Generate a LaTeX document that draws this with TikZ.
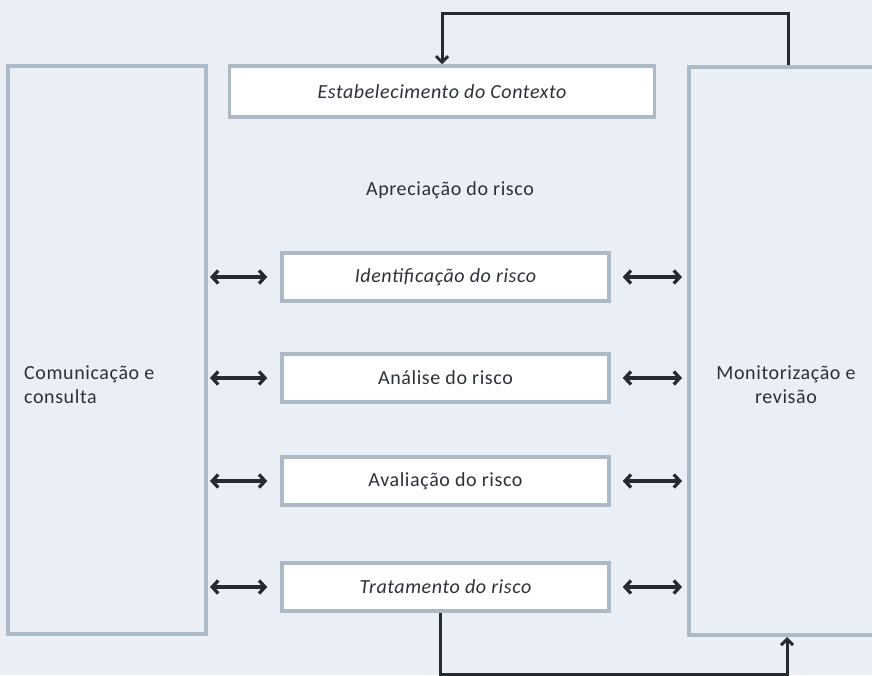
\documentclass[tikz,border=0pt]{standalone}
\usepackage{fontspec}
\setmainfont[LetterSpace=3]{Carlito}
\usetikzlibrary{positioning,arrows.meta,calc}

\definecolor{bgcol}{HTML}{E9EFF4}
\definecolor{edgecol}{HTML}{ADBAC5}
\definecolor{arrcol}{HTML}{262B32}
\definecolor{txtcol}{HTML}{2C3138}

\begin{document}
\begin{tikzpicture}[x=1pt, y=-1pt, font=\fontsize{20}{24}\selectfont, text=txtcol,
  sidebox/.style={draw=edgecol, line width=4pt, fill=bgcol, inner sep=0pt},
  procbox/.style={draw=edgecol, line width=3.5pt, fill=white, inner sep=0pt,
    minimum width=327pt, minimum height=48pt},
  biarrow/.style={draw=arrcol, line width=3.3pt,
    {Straight Barb[length=6pt,width=13pt]}-{Straight Barb[length=6pt,width=13pt]}},
  fbarrow/.style={draw=arrcol, line width=3pt, -{Straight Barb[length=6pt,width=12pt]}}]

% Background (also fixes the bounding box)
\useasboundingbox (0,0) rectangle (872,675);
\fill[bgcol] (0,0) rectangle (872,675);

% Side frames (the right one runs off the page)
\node[sidebox, minimum width=198pt, minimum height=568pt] (Com) at (107,350) {};
\node[sidebox, minimum width=250pt, minimum height=568pt] (Mon) at (814,351) {};

% Side labels
\node[anchor=west, align=left, inner sep=0pt] (ComTxt) at (24,385) {Comunicação e\\consulta};
\node[align=center, inner sep=0pt] (MonTxt) at (786,385) {Monitorização e\\revisão};

% Context box on top
\node[procbox, minimum width=425pt, minimum height=51pt] (Est) at (442,91.5)
  {\itshape Estabelecimento do Contexto};

% Heading of the assessment block
\node (Apr) at (450,190) {Apreciação do risco};

% Assessment steps
\node[procbox] (Ide) at (445.5,277) {\itshape Identificação do risco};
\node[procbox] (Ana) at (445.5,378) {Análise do risco};
\node[procbox] (Ava) at (445.5,481) {Avaliação do risco};
\node[procbox] (Tra) at (445.5,587) {\itshape Tratamento do risco};

% Two-way links to the side frames
\foreach \s in {Ide,Ana,Ava,Tra} {
  \draw[biarrow, shorten <=2pt, shorten >=13pt] (\s.west -| Com.east) -- (\s.west);
  \draw[biarrow, shorten <=12pt, shorten >=5pt] (\s.east) -- (\s.east -| Mon.west);
}

% Feedback loops
\coordinate (MonTop) at ($(Mon.north west)+(101,0)$);
\coordinate (MonBot) at ($(Mon.south west)+(100,0)$);
\draw[fbarrow] (MonTop) -- ++(0,-52) -| (Est.north);
\draw[fbarrow] ($(Tra.south)+(-5,0)$) -- ++(0,62) -| (MonBot);

\end{tikzpicture}
\end{document}
